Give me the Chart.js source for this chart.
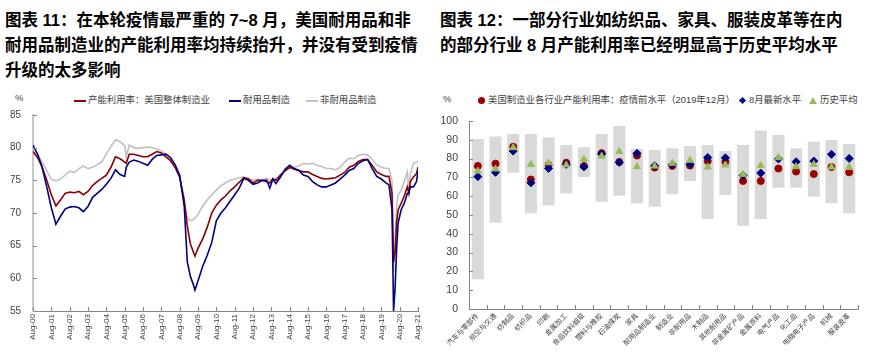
<!DOCTYPE html>
<html>
<head>
<meta charset="utf-8">
<script src="https://cdn.jsdelivr.net/npm/chart.js@4.4.1/dist/chart.umd.min.js"></script>
<style>
  body { margin: 0; background: #fff; width: 874px; height: 361px; overflow: hidden; position: relative;
         font-family: "Liberation Sans", Arial, "Noto Sans CJK SC", sans-serif; }
  .title { position: absolute; top: 8px; font-weight: bold; font-size: 16.5px; line-height: 25px; color: #000; white-space: nowrap; }
  .box { position: absolute; top: 88px; width: 437px; height: 273px; }
  .lg { position: absolute; top: 94px; font-size: 9.4px; line-height: 12px; color: #404040; white-space: nowrap; }
  .ln { display: inline-block; width: 12px; height: 2px; vertical-align: middle; margin-right: 2px; }
  .dot { display: inline-block; width: 7px; height: 7px; border-radius: 50%; vertical-align: middle; margin-right: 3px; }
  .dia { display: inline-block; width: 5px; height: 5px; transform: rotate(45deg); vertical-align: middle; margin-right: 4px; }
  .tri { display: inline-block; width: 0; height: 0; border-left: 4px solid transparent; border-right: 4px solid transparent;
         border-bottom: 7px solid #9bbb59; vertical-align: middle; margin-right: 3px; }
</style>
</head>
<body>
<div class="title" style="left:5px">图表 11：在本轮疫情最严重的 7~8 月，美国耐用品和非<br>耐用品制造业的产能利用率均持续抬升，并没有受到疫情<br>升级的太多影响</div>
<div class="title" style="left:440px">图表 12：一部分行业如纺织品、家具、服装皮革等在内<br>的部分行业 8 月产能利用率已经明显高于历史平均水平</div>

<div class="lg" style="left:15px;top:92px">%</div>
<div class="lg" style="left:74px"><i class="ln" style="background:#8b0000"></i>产能利用率：美国整体制造业</div>
<div class="lg" style="left:229px"><i class="ln" style="background:#000080"></i>耐用品制造</div>
<div class="lg" style="left:306px"><i class="ln" style="background:#c0c0c0"></i>非耐用品制造</div>

<div class="lg" style="left:443px;top:93px">%</div>
<div class="lg" style="left:478px"><i class="dot" style="background:#9b0000"></i>美国制造业各行业产能利用率：疫情前水平（2019年12月）</div>
<div class="lg" style="left:740px"><i class="dia" style="background:#000080"></i>8月最新水平</div>
<div class="lg" style="left:809px"><i class="tri"></i>历史平均</div>

<div class="box" style="left:0"><canvas id="left"></canvas></div>
<div class="box" style="left:437px"><canvas id="right"></canvas></div>

<script>
// ---- left chart: capacity utilisation, Aug 2000 - Aug 2021
const months = [
  '2000-08','2000-11','2001-02','2001-05','2001-08','2001-11','2002-02','2002-05','2002-08','2002-11',
  '2003-02','2003-05','2003-08','2003-11','2004-02','2004-05','2004-08','2004-11','2005-02','2005-05',
  '2005-08','2005-09','2005-11','2006-02','2006-05','2006-08','2006-11','2007-02','2007-05','2007-08',
  '2007-11','2008-02','2008-05','2008-08','2008-11','2009-01','2009-03','2009-05','2009-06','2009-08',
  '2009-11','2010-02','2010-05','2010-08','2010-11','2011-02','2011-05','2011-08','2011-11','2012-02',
  '2012-05','2012-08','2012-11','2013-02','2013-05','2013-07','2013-09','2013-11','2014-02','2014-05',
  '2014-08','2014-11','2015-02','2015-05','2015-08','2015-11','2016-02','2016-05','2016-08','2016-11',
  '2017-02','2017-05','2017-08','2017-11','2018-02','2018-05','2018-08','2018-11','2019-02','2019-05',
  '2019-08','2019-11','2020-01','2020-03','2020-04','2020-05','2020-06','2020-07','2020-09','2020-11',
  '2021-01','2021-02','2021-03','2021-05','2021-07','2021-08'
];
const mfgTotal = [
  79.4,78.5,77.0,75.0,72.8,71.1,72.0,73.0,73.2,73.1,
  73.3,72.8,73.3,74.2,74.8,75.3,75.8,77.0,78.6,78.3,
  77.8,77.6,79.0,79.0,78.8,78.6,78.6,79.0,79.4,79.2,
  78.6,78.0,77.0,75.5,72.0,68.0,65.3,64.0,63.4,64.6,
  66.0,67.8,70.0,71.2,72.0,72.6,73.4,74.0,74.7,75.4,
  75.2,74.6,75.0,75.0,74.8,74.6,75.2,75.0,75.8,76.5,
  77.0,76.7,76.5,76.3,76.3,75.9,75.6,75.3,75.2,75.3,
  75.4,75.8,76.2,77.0,77.3,77.9,78.2,78.2,77.3,76.3,
  75.9,75.6,75.6,73.0,62.5,64.0,68.5,70.5,71.5,72.6,
  74.0,73.0,74.8,75.5,76.0,77.0
];
const durable = [
  80.4,79.0,77.0,74.0,70.8,68.3,69.5,70.6,70.9,71.0,
  70.8,70.2,71.0,72.4,73.0,73.6,74.4,75.3,76.6,75.9,
  75.6,77.0,77.8,78.1,77.9,77.6,77.3,78.2,78.8,78.9,
  79.0,78.5,77.4,75.8,71.0,62.5,60.3,59.0,58.2,59.6,
  61.8,63.5,65.5,68.8,70.0,70.8,71.8,72.8,73.8,75.3,
  75.0,74.4,74.6,75.0,75.0,73.8,75.2,74.5,75.5,76.7,
  77.3,76.8,76.5,75.8,75.6,74.8,74.3,74.0,74.0,74.3,
  74.6,75.2,75.8,76.5,76.8,77.6,78.0,78.2,76.8,75.6,
  75.2,74.6,74.3,70.5,55.0,58.5,64.5,68.5,70.5,71.5,
  73.0,73.0,74.0,74.0,74.8,76.4
];
const nondurable = [
  80.1,79.0,77.8,76.5,75.2,74.9,75.2,75.8,76.4,76.2,
  76.8,77.2,76.8,77.0,77.4,77.8,79.0,80.2,81.2,80.9,
  80.3,78.6,80.4,80.0,79.9,80.0,80.1,80.0,79.8,79.5,
  79.0,78.2,77.1,75.5,71.5,69.3,68.8,69.0,69.2,69.8,
  71.0,72.0,72.8,73.5,74.2,74.6,75.0,75.2,75.4,75.5,
  75.3,75.0,75.2,75.0,75.3,75.0,75.2,75.2,75.8,76.4,
  76.8,77.0,77.2,77.6,77.5,77.6,77.3,77.1,76.8,76.8,
  76.6,77.0,77.8,78.4,78.3,78.8,79.0,78.9,78.2,77.4,
  77.0,76.8,76.8,75.0,61.0,66.0,71.0,72.8,73.5,74.8,
  76.3,73.5,76.0,77.6,77.8,77.8
];
const xTickLabels = ['Aug-00','Aug-01','Aug-02','Aug-03','Aug-04','Aug-05','Aug-06','Aug-07','Aug-08','Aug-09','Aug-10',
  'Aug-11','Aug-12','Aug-13','Aug-14','Aug-15','Aug-16','Aug-17','Aug-18','Aug-19','Aug-20','Aug-21'];

// ---- right chart: utilisation by industry
const industries = ['汽车与零部件','航空与交通','纺制品','纺织品','印刷','金属加工','食品饮料烟草','塑料与橡胶','石油煤炭','家具',
  '耐用品制造业','制造业','非耐用品','木制品','其他耐用品','非金属矿产品','金属原料','电气产品','化工品','电脑电子产品','机械','服装皮革'];
const rangeLow  = [15.8,45.9,72.5,50.9,55.0,61.5,70.2,57.1,60.3,56.2,54.4,61.0,68.1,47.9,60.6,44.3,47.9,64.5,64.5,59.7,56.2,50.9];
const rangeHigh = [90.4,91.7,93.1,93.1,91.3,87.2,86.0,93.1,97.3,85.1,84.6,85.5,86.7,87.2,84.0,87.2,94.9,92.6,85.5,89.0,89.9,87.8];
const preCovid  = [76.1,77.3,86.3,68.9,76.6,77.8,76.0,82.9,78.2,81.6,75.2,76.1,76.3,78.7,78.3,68.1,68.1,74.7,73.1,71.8,75.5,72.7];
const latestAug = [70.4,72.7,84.0,67.1,74.8,76.9,75.6,82.5,78.0,82.8,76.2,76.8,77.0,80.6,80.4,71.0,72.3,79.8,78.3,78.7,82.3,80.1];
const histAvg   = [73.4,74.5,85.8,76.9,77.8,76.6,79.7,81.3,83.7,75.7,76.0,77.5,79.1,75.5,76.6,71.6,76.3,80.5,75.7,76.9,75.5,75.3];

Chart.defaults.font.family = '"Liberation Sans", Arial, "Noto Sans CJK SC", sans-serif';
Chart.defaults.color = '#404040';

// month string -> months since Aug 2000
function monthIdx(s) {
  const [y, m] = s.split('-').map(Number);
  return (y - 2000) * 12 + (m - 8);
}
const toXY = vals => vals.map((v, i) => ({ x: monthIdx(months[i]), y: v }));

// small tick marks pointing into the plot
const innerTicks = {
  id: 'innerTicks',
  afterDraw(chart, args, opts) {
    const { ctx, chartArea, scales } = chart;
    ctx.save();
    ctx.strokeStyle = '#868686';
    ctx.lineWidth = 1;
    ctx.beginPath();
    (opts.xs || []).forEach(v => {
      const px = Math.round(scales.x.getPixelForValue(v)) + 0.5;
      ctx.moveTo(px, chartArea.bottom);
      ctx.lineTo(px, chartArea.bottom - 4);
    });
    (opts.ys || []).forEach(v => {
      const py = Math.round(scales.y.getPixelForValue(v)) + 0.5;
      ctx.moveTo(chartArea.left, py);
      ctx.lineTo(chartArea.left + 4, py);
    });
    ctx.stroke();
    ctx.restore();
  }
};

new Chart(document.getElementById('left'), {
  type: 'line',
  data: {
    datasets: [
      { label: '产能利用率：美国整体制造业', data: toXY(mfgTotal), borderColor: '#8b0000', order: 2 },
      { label: '耐用品制造', data: toXY(durable), borderColor: '#000080', order: 1 },
      { label: '非耐用品制造', data: toXY(nondurable), borderColor: '#c0c0c0', order: 3 },
    ],
  },
  options: {
    responsive: true,
    maintainAspectRatio: false,
    animation: false,
    layout: { padding: { top: 27, right: 19, left: 0, bottom: 0 } },
    elements: {
      point: { radius: 0 },
      line: { borderWidth: 1.6, tension: 0 },
    },
    plugins: {
      legend: { display: false },
      tooltip: { enabled: false },
      innerTicks: { xs: xTickLabels.map((_, i) => i * 12), ys: [60, 65, 70, 75, 80, 85] },
    },
    scales: {
      x: {
        type: 'linear',
        min: 0,
        max: 252,
        afterBuildTicks: s => { s.ticks = xTickLabels.map((_, i) => ({ value: i * 12 })); },
        afterFit: s => { s.height = 50; },
        ticks: {
          callback: (v, i) => xTickLabels[i],
          autoSkip: false,
          minRotation: 90,
          maxRotation: 90,
          padding: 3,
          font: { size: 8 },
        },
        grid: { display: false, drawTicks: false },
        border: { color: '#868686', width: 1 },
      },
      y: {
        min: 55,
        max: 85,
        afterFit: s => { s.width = 33; },
        ticks: { stepSize: 5, padding: 12, font: { size: 10 } },
        grid: { display: false, drawTicks: false },
        border: { color: '#c8c8c8', width: 2 },
      },
    },
  },
  plugins: [innerTicks],
});

new Chart(document.getElementById('right'), {
  type: 'bar',
  data: {
    labels: industries,
    datasets: [
      { type: 'line', label: '美国制造业各行业产能利用率：疫情前水平（2019年12月）', data: preCovid, showLine: false,
        pointStyle: 'circle', pointRadius: 3.5, backgroundColor: '#9b0000', borderColor: '#9b0000', order: 3 },
      { type: 'line', label: '8月最新水平', data: latestAug, showLine: false,
        pointStyle: 'rectRot', pointRadius: 4, backgroundColor: '#000080', borderColor: '#000080', order: 2 },
      { type: 'line', label: '历史平均', data: histAvg, showLine: false,
        pointStyle: 'triangle', pointRadius: 4, backgroundColor: '#9bbb59', borderColor: '#9bbb59', order: 1 },
      { type: 'bar', label: '区间', data: industries.map((_, i) => [rangeLow[i], rangeHigh[i]]),
        backgroundColor: '#d9d9d9', barPercentage: 0.68, categoryPercentage: 1, order: 4 },
    ],
  },
  options: {
    responsive: true,
    maintainAspectRatio: false,
    animation: false,
    layout: { padding: { top: 33, right: 16, left: 0, bottom: 0 } },
    plugins: {
      legend: { display: false },
      tooltip: { enabled: false },
      innerTicks: {
        xs: industries.map((_, i) => i + 0.5).concat([-0.5]),
        ys: [10, 20, 30, 40, 50, 60, 70, 80, 90, 100],
      },
    },
    scales: {
      x: {
        afterFit: s => { s.height = 52; },
        ticks: { autoSkip: false, minRotation: 45, maxRotation: 45, padding: 3, font: { size: 7 } },
        grid: { display: false, drawTicks: false },
        border: { color: '#868686', width: 1 },
      },
      y: {
        min: 0,
        max: 100,
        afterFit: s => { s.width = 32; },
        ticks: { stepSize: 10, padding: 11, font: { size: 10.5 } },
        grid: { display: false, drawTicks: false },
        border: { color: '#868686', width: 1 },
      },
    },
  },
  plugins: [innerTicks],
});
</script>
</body>
</html>
